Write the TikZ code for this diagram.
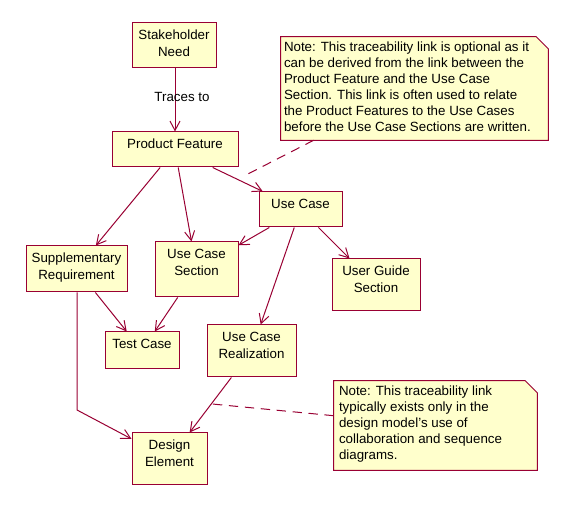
\documentclass[tikz,border=0pt]{standalone}
\usepackage{fontspec}
\setmainfont{Liberation Sans}
\usetikzlibrary{arrows.meta,calc}
\definecolor{linec}{RGB}{153,0,51}
\definecolor{fillc}{RGB}{255,255,204}
\begin{document}
\begin{tikzpicture}[x=0.75pt,y=-0.75pt,
  box/.style={draw=linec,fill=fillc,line width=0.75pt,inner sep=0pt,rectangle},
  txt/.style={anchor=north,inner sep=0pt,align=center,font=\fontsize{10pt}{12.75pt}\selectfont},
  notetxt/.style={anchor=north west,inner sep=0pt,align=left,font=\fontsize{10pt}{12pt}\selectfont},
  notebox/.style={inner sep=0pt,rectangle},
  arr/.style={draw=linec,line width=0.75pt,-{Straight Barb[length=7pt,width=7.5pt]}},
  dashline/.style={draw=linec,line width=0.75pt,dash pattern=on 7pt off 5pt}]
\fill[white] (0,0) rectangle (576,516);
\useasboundingbox (0,0) rectangle (576,516);

% boxes
\node[box,minimum width=84*0.75pt,minimum height=45*0.75pt] (sn) at (174,45.5) {};
\node[box,minimum width=126*0.75pt,minimum height=35*0.75pt] (pf) at (175,149.5) {};
\node[box,minimum width=83*0.75pt,minimum height=35*0.75pt] (uc) at (300.5,209.5) {};
\node[box,minimum width=88*0.75pt,minimum height=52*0.75pt] (ugs) at (376,285) {};
\node[box,minimum width=101*0.75pt,minimum height=46*0.75pt] (sr) at (76.5,269) {};
\node[box,minimum width=83*0.75pt,minimum height=55*0.75pt] (ucs) at (196.5,269.5) {};
\node[box,minimum width=74*0.75pt,minimum height=37*0.75pt] (tc) at (142,350.5) {};
\node[box,minimum width=89*0.75pt,minimum height=52*0.75pt] (ucr) at (251.5,351) {};
\node[box,minimum width=75*0.75pt,minimum height=52*0.75pt] (de) at (169.5,459) {};

% box texts
\node[txt] (snt) at (174,29.5) {Stakeholder\\Need};
\node[txt] (pft) at (175,138.5) {Product Feature};
\node[txt] (uct) at (300.5,198.5) {Use Case};
\node[txt] (ugst) at (376,265.5) {User Guide\\Section};
\node[txt] (srt) at (76.5,252.5) {Supplementary\\Requirement};
\node[txt] (ucst) at (196.5,248.5) {Use Case\\Section};
\node[txt] (tct) at (142,338.5) {Test Case};
\node[txt] (ucrt) at (251.5,331.5) {Use Case\\Realization};
\node[txt] (det) at (169.5,439.5) {Design\\Element};

% notes
\node[notebox,minimum width=267*0.75pt,minimum height=103*0.75pt] (n1) at (414.5,88.5) {};
\draw[draw=linec,fill=fillc,line width=0.75pt] (n1.north west) -- ([xshift=-12*0.75pt]n1.north east) -- ([yshift=-12*0.75pt]n1.north east) -- (n1.south east) -- (n1.south west) -- cycle;
\node[notetxt] (n1t) at ($(n1.north west)+(3,5)$) {Note: This traceability link is optional as it\\can be derived from the link between the\\Product Feature and the Use Case\\Section. This link is often used to relate\\the Product Features to the Use Cases\\before the Use Case Sections are written.};

\node[notebox,minimum width=203*0.75pt,minimum height=89*0.75pt] (n2) at (435.5,425.5) {};
\draw[draw=linec,fill=fillc,line width=0.75pt] (n2.north west) -- ([xshift=-12*0.75pt]n2.north east) -- ([yshift=-12*0.75pt]n2.north east) -- (n2.south east) -- (n2.south west) -- cycle;
\node[notetxt] (n2t) at ($(n2.north west)+(5,5)$) {Note: This traceability link\\typically exists only in the\\design model's use of\\collaboration and sequence\\diagrams.};

% connectors
\draw[arr] (sn.south -| pf) -- (pf);
\node[inner sep=0pt,font=\fontsize{10pt}{12pt}\selectfont] (lbl) at (182,97) {Traces to};
\draw[arr] (pf) -- (sr);
\draw[arr] (pf) -- (ucs);
\draw[arr] (pf) -- (uc);
\draw[arr] (uc) -- (ucs);
\draw[arr] (uc) -- (ucr);
\draw[arr] (uc) -- (ugs);
\draw[arr] (sr) -- (tc);
\draw[arr] (ucs) -- (tc);
\draw[arr] (ucr) -- (de);
\coordinate (bend) at (77,410);
\draw[arr] (sr.south -| bend) -- (bend) -- (de);

\coordinate (d1) at (244,176);
\draw[dashline] (n1) -- (d1);
\coordinate (d2) at ($(ucr)!0.49!(de)$);
\draw[dashline] (n2) -- (d2);
\end{tikzpicture}
\end{document}
